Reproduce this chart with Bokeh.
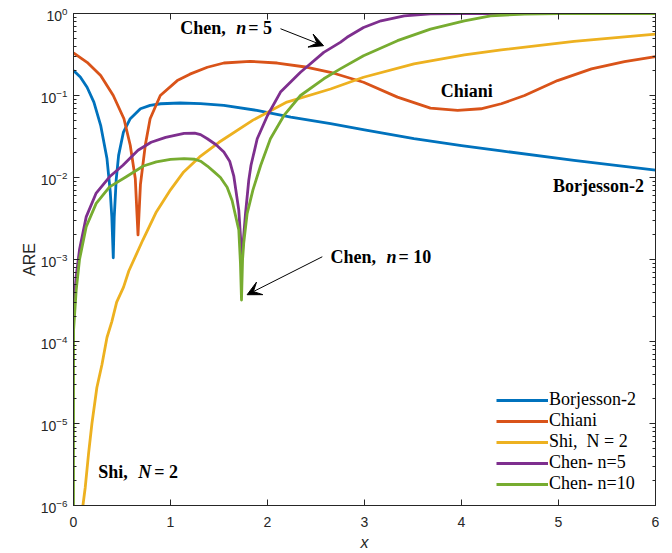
from bokeh.plotting import figure
from bokeh.models import (Range1d, LinearAxis, LogAxis, FixedTicker, Legend, LegendItem,
                          Label, Arrow, VeeHead, CustomJSTickFormatter)
from bokeh.embed import file_html
from bokeh.resources import INLINE

# ---------------- data ----------------
x_ticks = [0, 1, 2, 3, 4, 5, 6]
y_ticks = [1e-6, 1e-5, 1e-4, 1e-3, 1e-2, 1e-1, 1.0]

borj_x = [0, 0.07, 0.14, 0.21, 0.28, 0.345, 0.379, 0.395, 0.410, 0.42, 0.44, 0.465, 0.515,
          0.585, 0.69, 0.79, 0.9, 1.1, 1.31, 1.55, 1.89, 2.24, 2.65, 3.0, 3.51, 4.0, 4.41,
          5.16, 6.0]
borj_y = [0.201, 0.168, 0.126, 0.083, 0.0433, 0.0170, 0.00668, 0.0033, 0.00105, 0.0033,
          0.00933, 0.0186, 0.0358, 0.0521, 0.0689, 0.0759, 0.0793, 0.0810, 0.0794, 0.0757,
          0.0658, 0.0546, 0.0453, 0.038, 0.0297, 0.0245, 0.0211, 0.0162, 0.0123]

chiani_x = [0, 0.14, 0.28, 0.41, 0.52, 0.585, 0.637, 0.655, 0.665, 0.675, 0.69, 0.74, 0.79,
            0.895, 1.07, 1.2, 1.38, 1.55, 1.82, 2.1, 2.41, 2.65, 2.99, 3.34, 3.68, 3.96, 4.2,
            4.41, 4.65, 4.99, 5.34, 5.68, 6.0]
chiani_y = [0.330, 0.254, 0.175, 0.100, 0.0521, 0.0247, 0.00973, 0.0035, 0.0020, 0.0035,
            0.0082, 0.0247, 0.0521, 0.100, 0.152, 0.182, 0.221, 0.249, 0.261, 0.249, 0.221,
            0.192, 0.145, 0.0955, 0.0702, 0.0658, 0.0689, 0.0793, 0.100, 0.152, 0.211,
            0.259, 0.298]

shi_x = [0.097, 0.121, 0.155, 0.19, 0.241, 0.293, 0.345, 0.396, 0.445, 0.516, 0.57, 0.716,
         0.854, 1.0, 1.136, 1.3, 1.5, 1.85, 2.2, 2.65, 2.99, 3.51, 4.03, 4.41, 5.16, 6.0]
shi_y = [1.0e-6, 1.66e-6, 4.27e-6, 1.0e-5, 2.75e-5, 5.2e-5, 1.12e-4, 1.76e-4, 3.02e-4,
         4.6e-4, 7.24e-4, 1.74e-3, 3.80e-3, 7.08e-3, 0.0117, 0.0178, 0.0269, 0.0501, 0.0832,
         0.120, 0.167, 0.243, 0.312, 0.359, 0.457, 0.562]

chen5_x = [0.0, 0.028, 0.062, 0.131, 0.234, 0.372, 0.51, 0.665, 0.8, 0.95, 1.14, 1.25, 1.31,
           1.38, 1.47, 1.55, 1.61, 1.652, 1.704, 1.728, 1.737, 1.746, 1.773, 1.807, 1.83,
           1.894, 2.0, 2.134, 2.34, 2.58, 2.75, 2.82, 2.99, 3.17, 3.41, 3.68, 4.0, 5.0, 6.0]
chen5_y = [2.45e-4, 6.3e-4, 1.32e-3, 3.31e-3, 6.46e-3, 0.0102, 0.0141, 0.0215, 0.0269,
           0.0309, 0.0345, 0.0347, 0.0333, 0.0297, 0.0251, 0.0204, 0.0158, 0.0105, 0.0040,
           0.00145, 0.0010, 0.00145, 0.0036, 0.0093, 0.0141, 0.0297, 0.0571, 0.110, 0.192,
           0.336, 0.445, 0.513, 0.676, 0.815, 0.938, 0.993, 1.0, 1.0, 1.0]

chen10_x = [0.0, 0.001, 0.028, 0.062, 0.131, 0.234, 0.372, 0.544, 0.72, 0.854, 1.0, 1.14,
            1.25, 1.31, 1.38, 1.45, 1.515, 1.584, 1.635, 1.704, 1.721, 1.732, 1.743, 1.755,
            1.79, 1.85, 1.93, 2.03, 2.17, 2.34, 2.58, 2.75, 2.99, 3.34, 3.68, 4.03, 4.3,
            4.65, 5.0, 6.0]
chen10_y = [1.0e-6, 1.38e-4, 4.27e-4, 1.0e-3, 2.51e-3, 4.83e-3, 7.69e-3, 0.0102, 0.0138,
            0.0155, 0.0166, 0.0170, 0.0167, 0.0158, 0.0138, 0.0117, 0.0100, 0.00759,
            0.00525, 0.00229, 9.1e-4, 3.2e-4, 1.0e-3, 1.58e-3, 3.63e-3, 7.08e-3, 0.0141,
            0.0297, 0.0571, 0.100, 0.160, 0.211, 0.306, 0.466, 0.646, 0.815, 0.938, 0.984,
            0.998, 1.0]

series_names = ["Borjesson-2", "Chiani", "Shi,  N = 2", "Chen- n=5", "Chen- n=10"]
series_colors = ["#0072BD", "#D95319", "#EDB120", "#7E2F8E", "#77AC30"]

# ---------------- figure ----------------
AX = "#262626"
p = figure(width=672, height=553, x_range=Range1d(0, 6), y_range=Range1d(1e-6, 1.0),
           y_axis_type="log", output_backend="svg", toolbar_location=None,
           min_border_left=73, min_border_right=17, min_border_top=13, min_border_bottom=44)
p.grid.visible = False
p.outline_line_color = AX
p.background_fill_color = "white"
p.border_fill_color = "white"

minor_y = [m * t for t in y_ticks[:-1] for m in range(2, 10)]

p.xaxis[0].ticker = FixedTicker(ticks=x_ticks)
p.yaxis[0].ticker = FixedTicker(ticks=y_ticks, minor_ticks=minor_y)


def style_axis(ax, minor=True):
    ax.major_tick_in = 6
    ax.major_tick_out = 0
    ax.minor_tick_in = 3 if minor else 0
    ax.minor_tick_out = 0
    ax.axis_line_color = AX
    ax.major_tick_line_color = AX
    ax.minor_tick_line_color = AX if minor else None
    ax.major_label_text_font = "Liberation Sans"
    ax.major_label_text_color = AX
    ax.major_label_text_font_size = "14px"


style_axis(p.xaxis[0], minor=False)
style_axis(p.yaxis[0], minor=True)
p.xaxis[0].major_label_standoff = 11
p.yaxis[0].major_label_standoff = 6

p.xaxis[0].axis_label = "x"
p.xaxis[0].axis_label_text_font = "Liberation Sans"
p.xaxis[0].axis_label_text_font_style = "italic"
p.xaxis[0].axis_label_text_font_size = "16px"
p.xaxis[0].axis_label_text_color = AX
p.xaxis[0].axis_label_standoff = 4

p.yaxis[0].axis_label = "ARE"
p.yaxis[0].axis_label_text_font = "Liberation Sans"
p.yaxis[0].axis_label_text_font_style = "normal"
p.yaxis[0].axis_label_text_font_size = "16px"
p.yaxis[0].axis_label_text_color = AX
p.yaxis[0].axis_label_standoff = 0

blank = CustomJSTickFormatter(code="return ''")
top_ax = LinearAxis(ticker=FixedTicker(ticks=x_ticks), formatter=blank)
style_axis(top_ax, minor=False)
top_ax.major_label_standoff = 0
p.add_layout(top_ax, "above")
right_ax = LogAxis(ticker=FixedTicker(ticks=y_ticks, minor_ticks=minor_y), formatter=blank)
style_axis(right_ax, minor=True)
right_ax.major_label_standoff = 0
p.add_layout(right_ax, "right")

# ---------------- curves ----------------
xs = [borj_x, chiani_x, shi_x, chen5_x, chen10_x]
ys = [borj_y, chiani_y, shi_y, chen5_y, chen10_y]
items = []
for xv, yv, name, col in zip(xs, ys, series_names, series_colors):
    r = p.line(xv, yv, line_width=2.8, line_color=col, line_join="round")
    items.append(LegendItem(label=name, renderers=[r]))

legend = Legend(items=items, location=(423, 11), padding=0, margin=0, spacing=0,
                glyph_width=52, glyph_height=18, label_height=18, label_standoff=1,
                label_text_font="Liberation Serif", label_text_font_size="18px",
                label_text_color="black", border_line_color=None, background_fill_alpha=0)
p.add_layout(legend)

# ---------------- annotations ----------------
FONT = "Liberation Serif"


def txt(x, y, s, dx=0, italic=False, align="left"):
    p.add_layout(Label(x=x, y=y, x_offset=dx, text=s, text_font=FONT,
                       text_font_style="bold italic" if italic else "bold",
                       text_font_size="18px", text_color="black",
                       text_baseline="middle", text_align=align))


txt(1.10, 0.67, "Chen,")
txt(1.10, 0.67, "n", dx=56, italic=True)
txt(1.10, 0.67, "= 5", dx=68)

txt(2.65, 1.08e-3, "Chen,")
txt(2.65, 1.08e-3, "n", dx=56, italic=True)
txt(2.65, 1.08e-3, "= 10", dx=68)

txt(4.055, 0.115, "Chiani", align="center")
txt(5.413, 7.94e-3, "Borjesson-2", align="center")

txt(0.255, 2.58e-6, "Shi,")
txt(0.255, 2.58e-6, "N", dx=40, italic=True)
txt(0.255, 2.58e-6, "= 2", dx=56)

p.add_layout(Arrow(x_start=2.134, y_start=0.652, x_end=2.578, y_end=0.405,
                   line_color="black", line_width=1,
                   end=VeeHead(size=14, fill_color="black", line_color="black")))
p.add_layout(Arrow(x_start=2.565, y_start=1.08e-3, x_end=1.790, y_end=3.72e-4,
                   line_color="black", line_width=1,
                   end=VeeHead(size=14, fill_color="black", line_color="black")))

open("out.html", "w").write(file_html(p, INLINE))
